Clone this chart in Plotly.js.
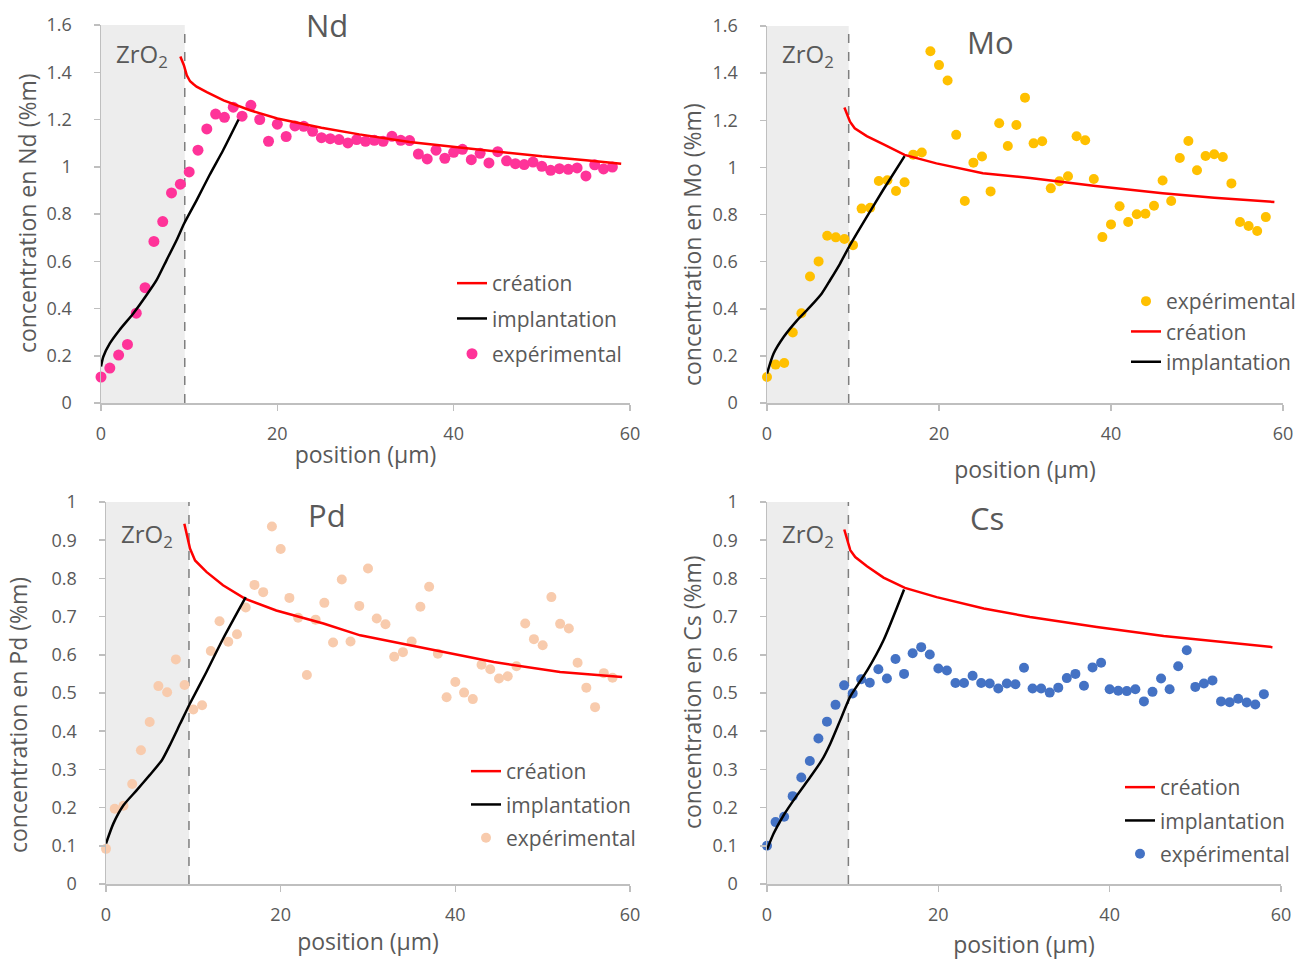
<!DOCTYPE html>
<html>
<head>
<meta charset="utf-8">
<script src="https://cdn.plot.ly/plotly-3.0.1.min.js"></script>
<style>html,body{margin:0;padding:0;background:#fff;}#chart{width:1297px;height:960px;}</style>
</head>
<body>
<div id="chart"></div>
<script>
// ---------- data ----------
const positions = [0,1,2,3,4,5,6,7,8,9,10,11,12,13,14,15,16,17,18,19,20,21,22,23,24,25,26,27,28,29,30,31,32,33,34,35,36,37,38,39,40,41,42,43,44,45,46,47,48,49,50,51,52,53,54,55,56,57,58];

const ndExp = [0.11,0.148,0.203,0.248,0.38,0.488,0.684,0.768,0.889,0.926,0.978,1.07,1.16,1.223,1.209,1.252,1.214,1.26,1.2,1.108,1.18,1.128,1.173,1.171,1.15,1.123,1.119,1.115,1.101,1.115,1.108,1.112,1.108,1.129,1.112,1.111,1.054,1.033,1.07,1.036,1.061,1.074,1.03,1.057,1.016,1.064,1.025,1.013,1.009,1.02,1.002,0.985,0.992,0.989,0.995,0.961,1.008,0.991,0.999];
const moExp = [0.11,0.163,0.17,0.299,0.381,0.537,0.601,0.71,0.703,0.696,0.67,0.825,0.829,0.942,0.945,0.9,0.937,1.054,1.063,1.493,1.434,1.369,1.138,0.857,1.02,1.046,0.898,1.187,1.091,1.18,1.296,1.102,1.111,0.911,0.941,0.962,1.132,1.115,0.951,0.704,0.758,0.835,0.768,0.801,0.803,0.837,0.944,0.857,1.04,1.112,0.988,1.048,1.056,1.044,0.932,0.768,0.751,0.73,0.789];
const pdExp = [0.092,0.197,0.205,0.262,0.35,0.424,0.518,0.502,0.588,0.521,0.457,0.468,0.61,0.688,0.634,0.654,0.724,0.783,0.764,0.936,0.877,0.749,0.697,0.547,0.692,0.736,0.632,0.797,0.635,0.728,0.826,0.695,0.68,0.595,0.607,0.635,0.726,0.778,0.603,0.489,0.529,0.501,0.484,0.574,0.562,0.538,0.544,0.57,0.682,0.641,0.625,0.751,0.681,0.669,0.579,0.514,0.463,0.552,0.54];
const csExp = [0.1,0.162,0.176,0.23,0.279,0.322,0.381,0.425,0.469,0.52,0.499,0.536,0.527,0.562,0.538,0.589,0.55,0.604,0.62,0.601,0.564,0.559,0.526,0.526,0.545,0.526,0.525,0.512,0.525,0.523,0.566,0.512,0.512,0.501,0.514,0.539,0.55,0.519,0.567,0.579,0.51,0.506,0.505,0.51,0.478,0.503,0.538,0.51,0.57,0.612,0.516,0.525,0.533,0.478,0.476,0.485,0.475,0.47,0.497];

const ndCreaX = [9.0,9.4,9.73,10.1,10.5,10.84,12.0,13.9,16.9,20,25,29.3,35,40,44.4,50,55,59];
const ndCreaY = [1.467,1.43,1.387,1.362,1.349,1.339,1.316,1.281,1.239,1.204,1.165,1.137,1.105,1.085,1.066,1.044,1.028,1.013];
const moCreaX = [9.0,9.65,10.2,11.6,13.5,16.0,19.7,25.1,30.6,38.2,46,52,59];
const moCreaY = [1.254,1.194,1.166,1.133,1.099,1.053,1.017,0.975,0.955,0.921,0.890,0.871,0.853];
const pdCreaX = [8.97,9.62,10.2,11.5,13.4,15.9,19.5,24.9,29.1,36.7,44.4,52,59.1];
const pdCreaY = [0.943,0.878,0.847,0.817,0.782,0.747,0.716,0.682,0.651,0.616,0.581,0.555,0.542];
const csCreaX = [9.02,9.72,10.3,11.67,13.6,16.1,19.8,25.3,30.7,38.5,46.3,54.1,59];
const csCreaY = [0.928,0.874,0.856,0.832,0.802,0.775,0.751,0.721,0.699,0.673,0.649,0.631,0.620];

const ndImplX = [0,0.26,1.0,2.1,3.66,5.17,6.3,7.44,8.57,9.43,10.84,12.3,13.85,15.6];
const ndImplY = [0.155,0.196,0.252,0.309,0.379,0.457,0.52,0.605,0.689,0.76,0.858,0.964,1.07,1.2];
const moImplX = [0,0.77,1.93,3.5,5.0,6.37,7.33,8.5,9.65,11.6,13.5,16.0];
const moImplY = [0.125,0.21,0.28,0.351,0.408,0.465,0.521,0.592,0.67,0.79,0.904,1.048];
const pdImplX = [0,0.84,2.0,3.5,5.0,6.4,7.3,8.5,9.6,11.5,13.4,16.0];
const pdImplY = [0.106,0.158,0.206,0.245,0.285,0.324,0.363,0.42,0.472,0.555,0.642,0.751];
const csImplX = [0,0.77,1.94,3.5,5.05,6.4,7.4,8.55,9.7,11.7,13.6,16.0];
const csImplY = [0.09,0.132,0.18,0.232,0.28,0.324,0.368,0.429,0.49,0.559,0.638,0.771];

const oxideEdge = 9.5;
const elements = ['Nd','Mo','Pd','Cs'];
const seriesNames = ['création','implantation','expérimental'];

// ---------- build ----------
const W = 1297, H = 960;
const px = v => v / W;
const py = v => 1 - v / H;

const panels = [
  {el:'Nd', exp:ndExp, cx:ndCreaX, cy:ndCreaY, ix:ndImplX, iy:ndImplY, color:'#ff3399', msize:11,
   xdom:[px(101),px(630)], ydom:[py(403),py(25)], yr:[0,1.6], dt:0.2, leg:'legend', order:['c','i','e']},
  {el:'Mo', exp:moExp, cx:moCreaX, cy:moCreaY, ix:moImplX, iy:moImplY, color:'#ffc000', msize:10,
   xdom:[px(767),px(1283)], ydom:[py(403),py(26)], yr:[0,1.6], dt:0.2, leg:'legend2', order:['e','c','i']},
  {el:'Pd', exp:pdExp, cx:pdCreaX, cy:pdCreaY, ix:pdImplX, iy:pdImplY, color:'#f8cbad', msize:10,
   xdom:[px(106),px(630)], ydom:[py(884),py(502)], yr:[0,1], dt:0.1, leg:'legend3', order:['c','i','e']},
  {el:'Cs', exp:csExp, cx:csCreaX, cy:csCreaY, ix:csImplX, iy:csImplY, color:'#4472c4', msize:10,
   xdom:[px(767),px(1281)], ydom:[py(884),py(502)], yr:[0,1], dt:0.1, leg:'legend4', order:['c','i','e']}
];

const traces = [];
const layout = {
  width: W, height: H,
  margin: {l:0, r:0, t:0, b:0, autoexpand:false},
  paper_bgcolor: '#ffffff', plot_bgcolor: '#ffffff',
  font: {family: '"Open Sans", "Noto Sans", sans-serif', color: '#595959', size: 18},
  shapes: [], annotations: [],
  showlegend: true
};

const axisStyle = {
  showline: true, linecolor: '#bfbfbf', linewidth: 1.5,
  ticks: 'outside', tickcolor: '#bfbfbf', ticklen: 6, tickwidth: 1.5,
  showgrid: false, zeroline: false, automargin: false,
  tickfont: {size: 18, color: '#595959'}
};

const legendPos = [
  {x: px(452), y: py(263), gap: 5},
  {x: px(1126), y: py(281), gap: 0},
  {x: px(466), y: py(751), gap: 3},
  {x: px(1120), y: py(767), gap: 3}
];
const xTitleStandoff = [3, 18, 9, 15];
const yTitlePos = [[27,213],[692,245],[18,715],[692,692]];
const titlePos = [[327,25],[990,42],[327,515],[987,518]];
const zrPos = [[142,55],[808,55],[147,535],[808,535]];

panels.forEach((p, i) => {
  const n = i + 1;
  const xa = n === 1 ? 'x' : 'x' + n;
  const ya = n === 1 ? 'y' : 'y' + n;
  const xk = n === 1 ? 'xaxis' : 'xaxis' + n;
  const yk = n === 1 ? 'yaxis' : 'yaxis' + n;

  const tr = {
    c: {type:'scatter', mode:'lines', name:seriesNames[0], x:p.cx, y:p.cy, xaxis:xa, yaxis:ya,
        line:{color:'#ff0000', width:2.5}, legend:p.leg, legendgroup:p.el+'c'},
    i: {type:'scatter', mode:'lines', name:seriesNames[1], x:p.ix, y:p.iy, xaxis:xa, yaxis:ya,
        line:{color:'#000000', width:2.5, shape:'spline', smoothing:0.6}, legend:p.leg, legendgroup:p.el+'i'},
    e: {type:'scatter', mode:'markers', name:seriesNames[2], x:positions, y:p.exp, xaxis:xa, yaxis:ya,
        marker:{color:p.color, size:p.msize}, cliponaxis:false, legend:p.leg, legendgroup:p.el+'e'}
  };
  traces.push(tr.e, tr.c, tr.i);

  layout[xk] = Object.assign({}, axisStyle, {
    domain: p.xdom, anchor: ya, range: [0, 60], dtick: 20, tick0: 0,
    ticklabelstandoff: 8,
    title: {text: 'position (µm)', font: {size: 23, color: '#595959'}, standoff: xTitleStandoff[i]}
  });
  layout[yk] = Object.assign({}, axisStyle, {
    domain: p.ydom, anchor: xa, range: p.yr, dtick: p.dt, tick0: 0,
    ticklabelstandoff: 18
  });

  const lp = legendPos[i];
  layout[p.leg] = {
    x: lp.x, y: lp.y, xanchor: 'left', yanchor: 'top',
    bgcolor: 'rgba(0,0,0,0)', borderwidth: 0,
    font: {size: 21, color: '#595959'},
    traceorder: 'grouped', tracegroupgap: lp.gap,
    itemclick: false
  };
  p.order.forEach((k, r) => { tr[k].legendrank = r + 1; });

  layout.shapes.push({type:'rect', xref:xa, yref:ya + ' domain', x0:0, x1:oxideEdge, y0:0, y1:1,
    fillcolor:'#ededed', line:{width:0}, layer:'below'});
  layout.shapes.push({type:'line', xref:xa, yref:ya + ' domain', x0:oxideEdge, x1:oxideEdge, y0:0, y1:1,
    line:{color:'#7f7f7f', width:1.5, dash:'dash'}, layer:'below'});

  layout.annotations.push({xref:'paper', yref:'paper', x:px(yTitlePos[i][0]), y:py(yTitlePos[i][1]),
    text:'concentration en ' + p.el + ' (%m)', textangle:-90, showarrow:false,
    font:{size:23, color:'#595959'}, xanchor:'center', yanchor:'middle'});
  layout.annotations.push({xref:'paper', yref:'paper', x:px(titlePos[i][0]), y:py(titlePos[i][1]),
    text:p.el, showarrow:false, font:{size:31, color:'#595959'}, xanchor:'center', yanchor:'middle'});
  layout.annotations.push({xref:'paper', yref:'paper', x:px(zrPos[i][0]), y:py(zrPos[i][1]),
    text:'ZrO<sub>2</sub>', showarrow:false, font:{size:24, color:'#595959'}, xanchor:'center', yanchor:'middle'});
});

Plotly.newPlot('chart', traces, layout, {staticPlot: true});
</script>
</body>
</html>
